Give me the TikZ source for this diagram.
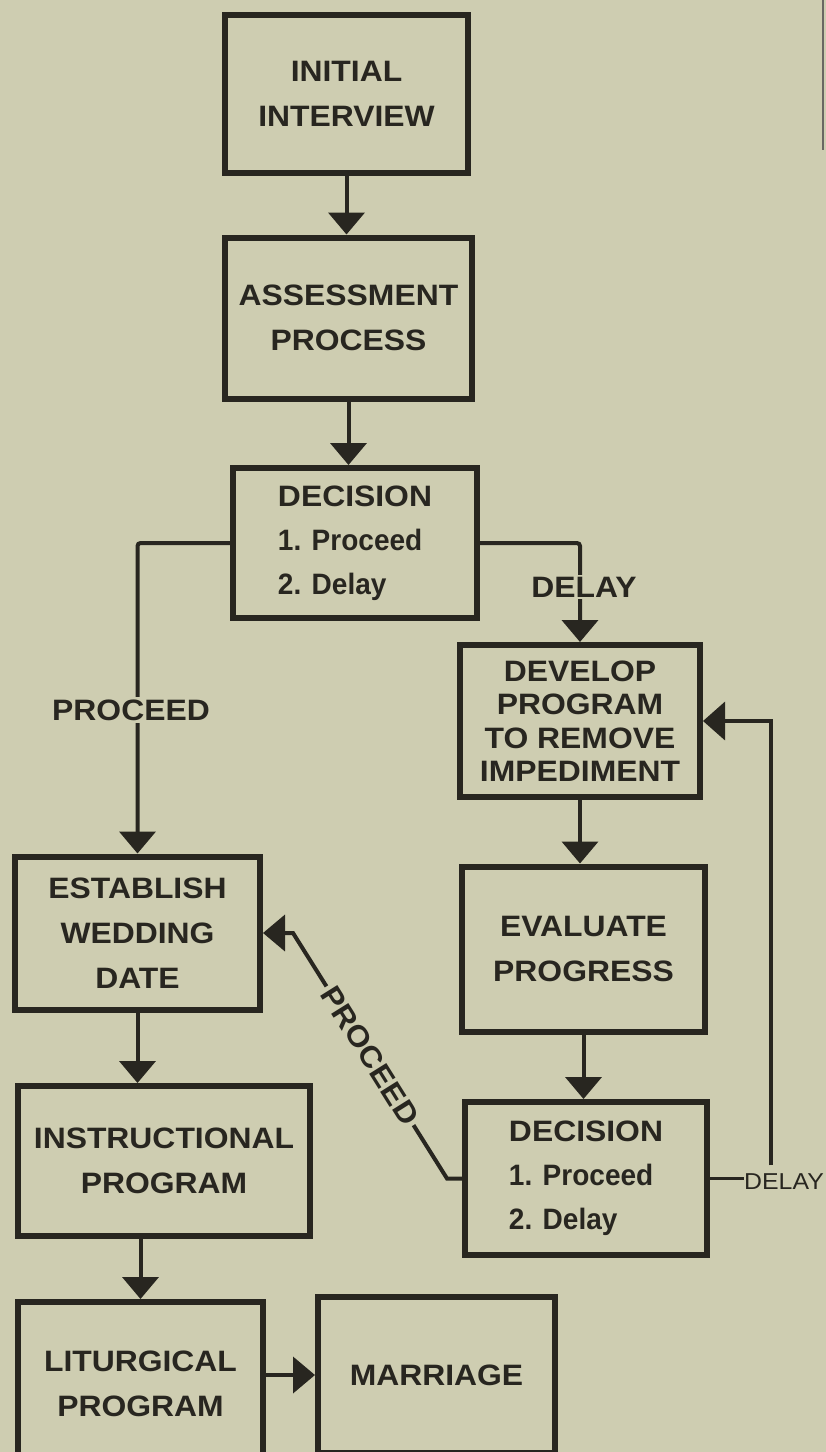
\documentclass[tikz,border=0pt]{standalone}
\usepackage{fontspec}
\setmainfont{Liberation Sans}[FakeStretch=1.08]
\newfontfamily\narrowfont{Liberation Sans}[FakeStretch=0.95]
\usetikzlibrary{arrows.meta}
\definecolor{bg}{RGB}{206,205,177}
\definecolor{ink}{RGB}{40,38,32}
\begin{document}
\begin{tikzpicture}[x=1pt,y=-1pt,
  box/.style={draw=ink, line width=6pt, inner sep=0pt, align=center, text=ink, font=\fontsize{29.5}{45}\selectfont\bfseries},
  dbox/.style={box, align=left, font=\fontsize{29.5}{44}\selectfont\bfseries},
  tbox/.style={box, font=\fontsize{29.5}{33.5}\selectfont\bfseries},
  arr/.style={draw=ink, line width=4pt, -{Triangle[width=36pt,length=22pt]}},
  conn/.style={draw=ink, line width=4pt},
  lbl/.style={text=ink, font=\fontsize{29.5}{36}\selectfont\bfseries, fill=bg, inner sep=3pt},
  slbl/.style={text=ink, font=\fontsize{23}{23}\selectfont, inner sep=0pt},
  ]
\fill[bg] (0,0) rectangle (826,1452);
\useasboundingbox (0,0) rectangle (826,1452);
\draw[ink!70, line width=1.5pt] (823,0) -- (823,150);

% boxes
\node[box, minimum width=243pt, minimum height=158pt] (b1) at (346.5,94) {INITIAL\\INTERVIEW};
\node[box, minimum width=247pt, minimum height=161pt] (b2) at (348.5,318) {ASSESSMENT\\PROCESS};
\node[dbox, minimum width=244pt, minimum height=150pt] (b3) at (355,543) {DECISION\\{\narrowfont 1. Proceed}\\{\narrowfont 2. Delay}};
\node[tbox, minimum width=240pt, minimum height=152pt] (b4) at (580,721) {DEVELOP\\PROGRAM\\TO REMOVE\\IMPEDIMENT};
\node[box, minimum width=243pt, minimum height=165pt] (b5) at (583.5,949) {EVALUATE\\PROGRESS};
\node[dbox, minimum width=242pt, minimum height=153pt] (b6) at (586,1178.5) {DECISION\\{\narrowfont 1. Proceed}\\{\narrowfont 2. Delay}};
\node[box, minimum width=245pt, minimum height=153pt] (est) at (137.5,933) {ESTABLISH\\WEDDING\\DATE};
\node[box, minimum width=292pt, minimum height=150pt] (ins) at (164,1161) {INSTRUCTIONAL\\PROGRAM};
\node[box, minimum width=245pt, minimum height=163pt] (lit) at (140.5,1383.5) {LITURGICAL\\PROGRAM};
\node[box, minimum width=237pt, minimum height=156pt] (mar) at (436.5,1375) {MARRIAGE};

% straight flow
\draw[arr] (b1.south) -- (b1.south |- b2.north);
\draw[arr] (b2.south) -- (b2.south |- b3.north);
\draw[arr] (b4.south) -- (b4.south |- b5.north);
\draw[arr] (b5.south) -- (b5.south |- b6.north);
\draw[arr] (est.south) -- (est.south |- ins.north);
\draw[arr] (lit.north |- ins.south) -- (lit.north);
\draw[arr] (lit.east |- mar.west) -- (mar.west);

% decision 1 branches
\draw[arr, rounded corners=3pt] (b3.west) -| (est.north);
\node[lbl] (lp) at (131,710) {PROCEED};
\draw[arr, rounded corners=3pt] (b3.east) -| (b4.north);
\node[lbl, inner sep=2pt] (ld) at (584,587) {DELAY};

% decision 2 branches
\coordinate (pk) at (447,1178.5);
\coordinate (pb) at (293,933);
\draw[arr] (b6.west) -- (pk) -- (pb) -- (est.east);
\path (pk) -- (pb) node[lbl, pos=0.5, sloped] (lp2) {PROCEED};

\node[slbl, anchor=west] (dR) at ([xshift=34pt,yshift=-3pt]b6.east) {DELAY};
\draw[conn, line width=3.5pt] (b6.east) -- (b6.east -| dR.west);
\coordinate (dx) at (771,0);
\coordinate (du) at (dx |- dR.north);
\draw[arr, line width=3.5pt, -{Triangle[width=38pt,length=22pt]}] ([yshift=8pt]du) |- (b4.east);
\end{tikzpicture}
\end{document}
